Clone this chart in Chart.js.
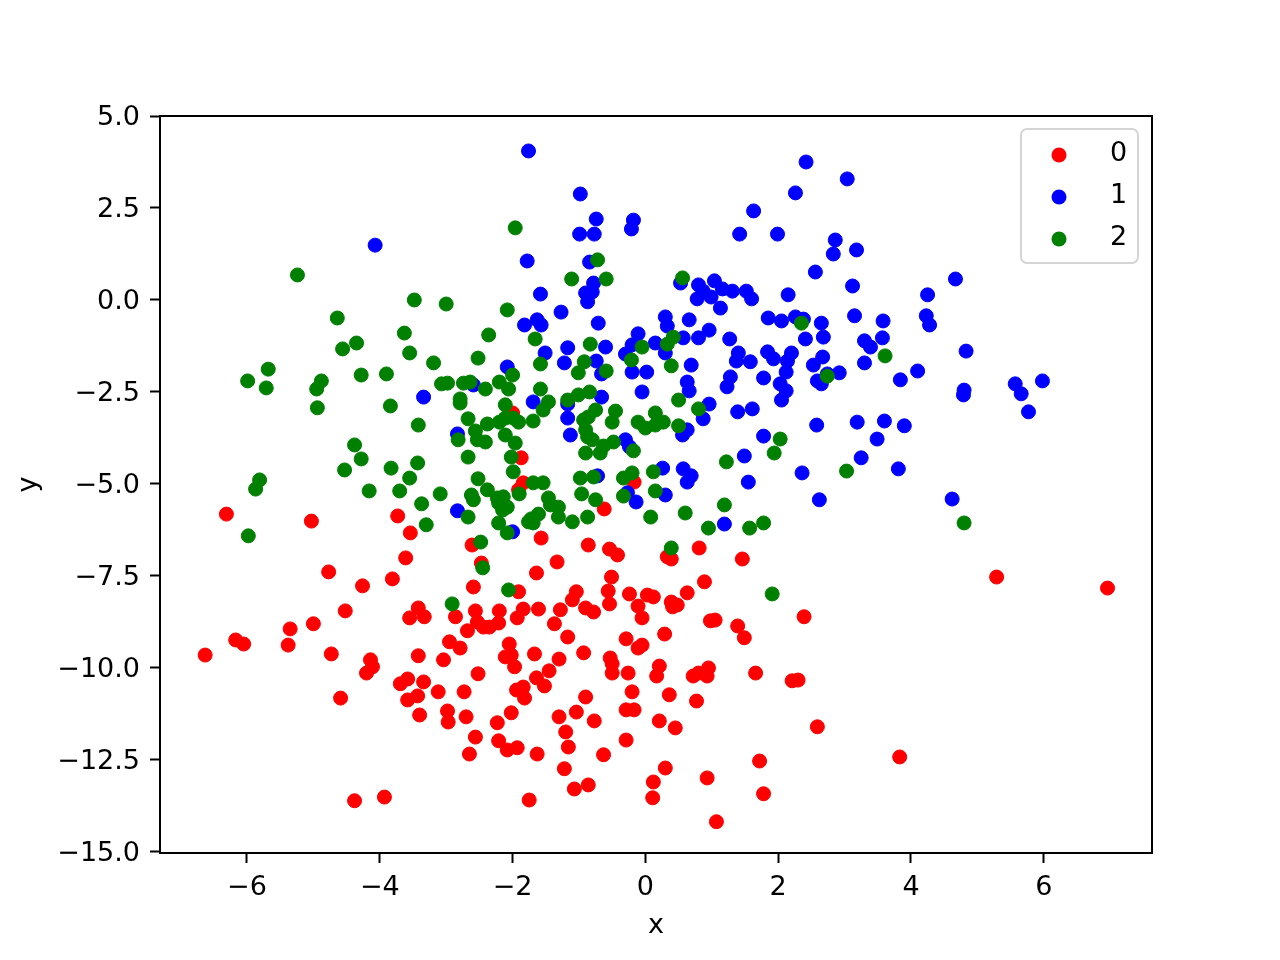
<!DOCTYPE html>
<html>
<head>
<meta charset="utf-8">
<script src="https://cdn.jsdelivr.net/npm/chart.js@4/dist/chart.umd.min.js"></script>
<style>
  html, body { margin: 0; padding: 0; background: #fff; }
  #wrap { width: 1280px; height: 960px; }
</style>
</head>
<body>
<div id="wrap"><canvas id="chart" width="1280" height="960"></canvas></div>
<script>
// data
const labels = ['0', '1', '2'];
const colors = ['#ff0000', '#0000ff', '#008000'];

const class0X = [-6.31,-5.03,-3.73,-3.54,-3.61,-4.77,-4.26,-3.81,-4.52,-6.63,-6.17,-6.05,-5.35,-5.38,-5.00,-4.73,-4.14,-4.11,-4.20,-3.69,-3.58,-3.58,-4.59,-4.38,-3.93,-3.55,-3.33,-3.42,-2.86,-2.56,-2.20,-2.21,-2.53,-2.44,-2.35,-2.68,-1.93,-1.84,-1.61,-1.28,-0.90,-0.78,-0.54,-0.11,-0.05,-1.37,-1.17,-2.95,-2.79,-2.05,-3.42,-3.04,-2.11,-2.02,-1.97,-1.67,-1.30,-0.93,-0.29,-0.11,-0.05,-0.53,-0.50,-0.50,-0.26,-2.52,-3.34,-3.12,-2.73,-3.43,-3.40,-2.98,-2.97,-2.70,-1.64,-1.45,-1.52,-1.94,-1.84,-1.82,-2.02,-2.23,-2.21,-2.08,-1.93,-2.56,-2.65,-1.63,-0.90,-1.04,-1.30,-0.77,-1.20,-1.16,-1.22,-1.07,-0.86,-1.75,-0.29,-0.17,-0.20,-0.29,-0.63,0.12,0.11,0.41,0.98,1.05,1.39,1.49,2.39,0.29,0.21,0.17,0.72,0.80,0.95,0.93,1.66,2.21,2.30,0.36,0.77,0.21,0.45,2.59,3.83,1.72,0.30,0.93,1.78,1.07,5.29,6.96,0.81,0.33,0.39,1.46,0.89,0.63,0.12,0.39,0.48,-2.00,-1.87,-1.84,-1.91,-0.62,-0.17,-1.57,-2.61,-0.86,-0.54,-0.42,-2.47,-1.33,-1.64,-0.51,-2.59,-1.91,-1.04,-0.56,-0.24,0.03,-1.10];
const class0Y = [-5.82,-6.01,-5.87,-6.33,-7.01,-7.39,-7.77,-7.58,-8.45,-9.65,-9.24,-9.35,-8.94,-9.38,-8.80,-9.62,-9.78,-9.97,-10.14,-10.43,-10.30,-10.87,-10.82,-13.61,-13.51,-8.64,-8.61,-8.37,-8.61,-8.45,-8.45,-8.78,-8.75,-8.89,-8.89,-8.99,-8.64,-8.40,-8.40,-8.42,-8.37,-8.48,-8.26,-8.32,-8.64,-8.80,-9.16,-9.29,-9.46,-9.35,-9.67,-9.78,-9.70,-9.65,-9.97,-9.62,-9.76,-9.59,-9.21,-9.46,-9.38,-9.73,-9.89,-10.14,-10.14,-10.16,-10.38,-10.65,-10.65,-10.76,-11.28,-11.17,-11.47,-11.33,-10.27,-10.08,-10.49,-10.60,-10.52,-10.82,-11.22,-11.49,-11.98,-12.23,-12.17,-11.88,-12.34,-12.34,-10.79,-11.20,-11.33,-11.44,-11.74,-12.15,-12.74,-13.29,-13.18,-13.59,-11.14,-11.14,-10.65,-11.96,-12.36,-13.10,-13.53,-8.34,-8.72,-8.70,-8.86,-9.18,-8.61,-9.08,-9.95,-10.22,-10.22,-10.14,-10.00,-10.22,-10.14,-10.35,-10.33,-10.73,-10.90,-11.44,-11.63,-11.60,-12.42,-12.53,-12.72,-12.99,-13.42,-14.18,-7.53,-7.83,-6.74,-6.98,-7.04,-7.04,-7.66,-7.96,-8.07,-8.21,-8.29,-3.07,-4.29,-4.97,-5.16,-5.68,-4.95,-6.47,-6.66,-6.66,-6.77,-6.93,-7.15,-7.12,-7.42,-7.53,-7.80,-7.93,-7.93,-7.91,-7.99,-8.02,-8.15];

const class1X = [-4.07,-1.76,-0.98,-0.74,-0.18,-0.21,-0.99,-0.77,-1.78,-0.84,-0.78,-1.58,-0.90,-0.80,-0.87,-1.27,-1.82,-1.63,-1.57,-0.71,-0.11,-0.20,0.15,-1.51,-1.17,-0.60,-0.30,-1.22,-2.08,-0.74,0.02,2.42,3.04,2.26,1.63,1.42,1.99,2.86,2.83,3.18,2.56,3.12,0.53,0.80,1.04,0.87,0.78,0.99,1.16,1.31,1.52,1.60,2.15,1.13,0.30,0.33,0.66,0.96,1.85,2.05,2.26,2.38,2.65,3.15,3.58,0.57,0.80,1.27,2.41,2.68,3.57,3.30,3.39,0.30,1.40,1.37,1.58,1.84,1.93,2.20,2.14,2.67,2.53,3.30,0.69,4.67,4.25,4.23,4.28,4.83,4.10,3.84,4.80,4.79,5.57,5.66,5.98,5.77,3.90,3.81,4.62,2.12,2.74,2.92,0.63,0.66,1.28,1.23,1.78,2.03,2.12,2.05,2.59,2.65,0.96,0.87,1.39,1.61,0.56,0.63,2.58,3.19,3.60,3.49,1.78,1.49,3.25,2.36,1.55,0.26,0.57,0.69,0.63,0.30,2.62,1.19,-0.66,-0.20,-0.05,-2.59,-3.34,-1.69,-0.66,-1.17,-1.17,-2.83,-1.13,-0.30,-0.24,-0.72,-0.27,-0.14,-2.83,-2.00];
const class1Y = [1.49,4.05,2.88,2.20,2.17,1.93,1.79,1.79,1.06,1.03,0.46,0.16,0.19,0.22,-0.05,-0.33,-0.68,-0.54,-0.68,-0.63,-0.92,-1.22,-1.17,-1.44,-1.30,-1.28,-1.47,-1.71,-1.82,-1.66,-1.96,3.75,3.29,2.91,2.42,1.79,1.79,1.63,1.25,1.36,0.76,0.38,0.46,0.41,0.52,0.24,0.03,0.08,0.30,0.24,0.24,0.03,0.14,-0.22,-0.46,-0.71,-0.54,-0.82,-0.49,-0.57,-0.46,-0.52,-0.63,-0.43,-0.57,-1.03,-1.03,-1.06,-1.06,-1.01,-1.03,-1.11,-1.28,-1.44,-1.44,-1.66,-1.68,-1.41,-1.60,-1.44,-1.66,-1.55,-1.77,-1.71,-1.77,0.57,0.14,-0.43,-0.68,-1.39,-1.93,-2.17,-2.45,-2.58,-2.28,-2.55,-2.20,-3.04,-3.42,-4.59,-5.41,-1.96,-2.01,-1.98,-2.23,-2.47,-2.09,-2.36,-2.12,-2.28,-2.47,-2.72,-2.20,-2.28,-2.83,-3.23,-3.04,-2.96,-3.67,-3.53,-3.40,-3.32,-3.29,-3.78,-3.70,-4.24,-4.29,-4.70,-4.95,-4.57,-4.59,-4.78,-4.95,-5.30,-5.43,-6.09,-2.01,-1.96,-2.50,-2.31,-2.64,-2.77,-2.64,-2.83,-3.21,-3.64,-3.67,-3.80,-3.99,-4.78,-5.24,-5.49,-5.73,-6.30];

const class2X = [-5.24,-3.48,-4.64,-3.63,-4.35,-4.56,-3.55,-5.68,-1.96,-0.72,-1.11,-0.59,-3.00,-2.08,-2.36,-1.66,-0.05,-2.52,-3.19,-0.83,-0.21,-1.58,-0.92,0.56,0.42,0.33,2.35,3.61,0.39,-5.99,-5.71,-4.88,-4.95,-4.94,-4.28,-3.90,-3.84,-4.38,-4.28,-4.53,-3.83,-5.81,-5.87,-4.16,-3.70,-3.55,-5.98,4.80,2.74,0.50,0.80,0.15,0.15,0.27,0.50,2.03,1.94,1.22,3.03,0.12,0.15,1.19,0.60,0.08,0.95,1.57,1.78,0.39,1.91,-2.00,-1.01,-0.59,-3.07,-2.98,-2.74,-2.64,-2.41,-2.20,-2.06,-2.79,-2.79,-1.58,-1.46,-1.54,-2.11,-1.17,-1.01,-0.84,-0.75,-0.45,-3.42,-2.67,-2.38,-2.20,-2.11,-1.99,-1.91,-1.69,-0.93,-0.86,-0.50,-2.82,-2.56,-2.53,-2.41,-2.67,-0.90,-0.87,-0.80,-2.11,-1.96,-0.63,-0.48,-0.18,-0.90,-0.68,-0.11,0.00,-2.02,-1.99,-3.43,-2.52,-1.90,-1.69,-1.54,-3.09,-2.62,-2.59,-2.38,-3.37,-2.67,-2.23,-2.14,-2.21,-2.08,-2.15,-1.46,-1.43,-1.31,-1.31,-1.61,-1.72,-1.76,-1.69,-0.96,-0.98,-0.78,-0.75,-0.87,-1.10,-0.33,-0.20,-0.33,-2.21,-2.08,-3.30,-2.48,-2.45,-2.06,-2.91];
const class2Y = [0.68,0.00,-0.49,-0.90,-1.17,-1.33,-1.44,-1.88,1.96,1.09,0.57,0.57,-0.11,-0.27,-0.95,-1.06,-1.28,-1.58,-1.71,-1.20,-1.63,-1.74,-1.68,0.60,-1.01,-1.20,-0.63,-1.52,-1.79,-2.20,-2.39,-2.20,-2.42,-2.93,-2.04,-2.01,-2.88,-3.94,-4.32,-4.62,-4.57,-4.89,-5.14,-5.19,-5.19,-4.84,-6.41,-6.06,-2.07,-2.72,-2.96,-3.07,-3.40,-3.32,-3.42,-3.78,-4.16,-4.40,-4.65,-4.67,-5.19,-5.57,-5.79,-5.90,-6.20,-6.20,-6.06,-6.74,-7.99,-2.04,-1.98,-1.93,-2.28,-2.26,-2.26,-2.23,-2.42,-2.23,-2.42,-2.69,-2.80,-2.42,-2.77,-2.99,-2.85,-2.72,-2.58,-2.50,-2.99,-3.02,-3.40,-3.23,-3.37,-3.32,-3.21,-3.21,-3.32,-3.29,-3.26,-3.18,-3.32,-3.80,-3.56,-3.80,-3.86,-4.27,-3.53,-3.72,-3.80,-3.67,-3.89,-3.97,-3.86,-4.10,-4.16,-4.16,-3.32,-3.48,-4.27,-4.67,-4.43,-4.86,-5.27,-4.97,-4.97,-5.27,-5.30,-5.43,-5.16,-5.54,-5.90,-5.38,-5.35,-5.52,-5.63,-5.71,-5.38,-5.57,-5.63,-5.90,-5.82,-5.95,-6.03,-6.06,-5.27,-4.84,-4.81,-5.43,-5.90,-6.03,-4.84,-4.70,-5.33,-6.06,-6.33,-6.11,-6.58,-7.28,-7.88,-8.26];

const xTicks = [-6, -4, -2, 0, 2, 4, 6];
const yTicks = [5, 2.5, 0, -2.5, -5, -7.5, -10, -12.5, -15];

// helpers
function toPoints(xs, ys) {
  return xs.map((x, i) => ({x: x, y: ys[i]}));
}
function minus(s) {
  return s.replace('-', '\u2212');
}

const FONT = 'DejaVu Sans';
const FS = 27;

const allX = [class0X, class1X, class2X];
const allY = [class0Y, class1Y, class2Y];

const datasets = labels.map((lab, i) => ({
  label: lab,
  data: toPoints(allX[i], allY[i]),
  backgroundColor: colors[i],
  borderColor: colors[i],
  borderWidth: 1,
  pointRadius: 7,
  pointHoverRadius: 7,
  // later classes drawn on top, like matplotlib
  order: labels.length - i,
}));

// box around the plot, drawn over the points
const frame = {
  id: 'frame',
  afterDatasetsDraw(chart) {
    const {ctx, chartArea: a} = chart;
    ctx.save();
    ctx.strokeStyle = '#000';
    ctx.lineWidth = 2;
    ctx.strokeRect(a.left, a.top, a.right - a.left, a.bottom - a.top);
    ctx.restore();
  }
};

// matplotlib style legend in upper right corner
const boxLegend = {
  id: 'boxLegend',
  afterDraw(chart) {
    const {ctx, chartArea: a} = chart;
    const w = 117, h = 134;
    const x0 = a.right - 14 - w, y0 = a.top + 13;
    ctx.save();
    ctx.beginPath();
    ctx.roundRect(x0, y0, w, h, 6);
    ctx.fillStyle = 'rgba(255,255,255,0.8)';
    ctx.fill();
    ctx.strokeStyle = '#d5d5d5';
    ctx.lineWidth = 2;
    ctx.stroke();
    ctx.font = FS + 'px "' + FONT + '"';
    ctx.textBaseline = 'alphabetic';
    ctx.textAlign = 'left';
    chart.data.datasets.forEach((ds, i) => {
      const cy = y0 + 26 + i * 42;
      ctx.beginPath();
      ctx.arc(x0 + 38, cy, 7.5, 0, Math.PI * 2);
      ctx.fillStyle = ds.backgroundColor;
      ctx.fill();
      ctx.fillStyle = '#000';
      ctx.fillText(ds.label, x0 + 89, cy + 6);
    });
    ctx.restore();
  }
};

const config = {
  type: 'scatter',
  data: { datasets: datasets },
  options: {
    responsive: false,
    animation: false,
    events: [],
    layout: { padding: { left: 0, top: 116, right: 128, bottom: 0 } },
    plugins: {
      legend: { display: false },
      tooltip: { enabled: false },
    },
    scales: {
      x: {
        type: 'linear',
        min: -7.31,
        max: 7.63,
        afterFit: (s) => { s.height = 107; },
        afterBuildTicks: (s) => { s.ticks = xTicks.map(v => ({value: v})); },
        border: { display: false },
        grid: { drawOnChartArea: false, drawTicks: true, tickLength: 10, tickWidth: 2, tickColor: '#000' },
        ticks: {
          color: '#000', padding: 9, maxRotation: 0,
          font: { family: FONT, size: FS },
          callback: (v) => minus(String(v)),
        },
        title: {
          display: true, text: 'x', color: '#000',
          font: { family: FONT, size: FS },
          padding: { top: 0, bottom: 18 },
        },
      },
      y: {
        type: 'linear',
        min: -15.03,
        max: 5.0,
        afterFit: (s) => { s.width = 160; },
        afterBuildTicks: (s) => { s.ticks = yTicks.map(v => ({value: v})); },
        border: { display: false },
        grid: { drawOnChartArea: false, drawTicks: true, tickLength: 10, tickWidth: 2, tickColor: '#000' },
        ticks: {
          color: '#000', padding: 10, labelOffset: 2,
          font: { family: FONT, size: FS },
          callback: (v) => minus(Number(v).toFixed(1)),
        },
        title: {
          display: true, text: 'y', color: '#000',
          font: { family: FONT, size: FS },
          padding: { top: 13, bottom: 0 },
        },
      },
    },
  },
  plugins: [frame, boxLegend],
};

var chart = null;
document.addEventListener('DOMContentLoaded', () => {
  chart = new Chart(document.getElementById('chart'), config);
});
</script>
</body>
</html>
